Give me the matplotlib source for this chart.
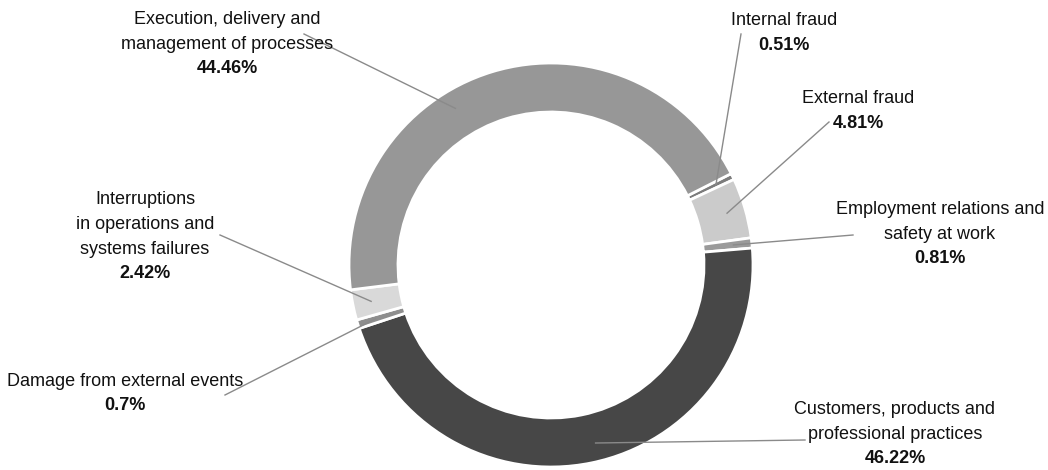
import numpy as np
import matplotlib
matplotlib.use("Agg")
import matplotlib.pyplot as plt

# data
categories = ["Internal fraud", "External fraud",
              "Employment relations and\nsafety at work",
              "Customers, products and\nprofessional practices",
              "Damage from external events",
              "Interruptions\nin operations and\nsystems failures",
              "Execution, delivery and\nmanagement of processes"]
shares = [0.51, 4.81, 0.81, 46.22, 0.7, 2.42, 44.46]
pct_labels = ["0.51%", "4.81%", "0.81%", "46.22%", "0.7%", "2.42%", "44.46%"]

colors = ["#7c7c7c", "#cbcbcb", "#9a9a9a", "#474747", "#8e8e8e", "#d9d9d9", "#979797"]
# label anchor (text centre, top line) in pixel coords from top-left, leader end points
label_pos = [(784, 12), (858, 90), (940, 201), (895, 401), (125, 373), (145, 191), (227, 11)]
line_end = [(741, 34), (829, 122), (853, 235), (805, 440), (225, 395), (220, 235), (304, 34)]
anchor_frac = [0.5, 0.5, 0.5, 0.485, 0.5, 0.5, 0.41]

plt.rcParams["font.family"] = ["Liberation Sans", "DejaVu Sans"]

W, H = 1048, 470
fig = plt.figure(figsize=(W / 100, H / 100), dpi=100)
ax = fig.add_axes([0, 0, 1, 1])

cx, cy, R, width = 551, H - 265, 202, 49
start = 26.9
wedges, _ = ax.pie(shares, colors=colors, startangle=start, counterclock=False,
                   center=(cx, cy), radius=R, frame=True,
                   wedgeprops=dict(width=width, edgecolor="white", linewidth=2))
ax.set_xlim(0, W)
ax.set_ylim(0, H)
ax.set_aspect("equal")
ax.axis("off")

r_mid = R - width / 2 + 6
for w, name, pct, (tx, ty), (lx, ly), fr in zip(wedges, categories, pct_labels,
                                                label_pos, line_end, anchor_frac):
    a0, a1 = w.theta1, w.theta2
    ang = np.deg2rad(a1 - (a1 - a0) * fr)
    px = cx + r_mid * np.cos(ang)
    py = cy + r_mid * np.sin(ang)
    ax.plot([px, lx], [py, H - ly], color="#8a8a8a", lw=1.0, zorder=3)
    nlines = name.count("\n") + 1
    ax.text(tx, H - ty, name, ha="center", va="top", fontsize=13,
            linespacing=1.6, color="#111111")
    ax.text(tx, H - ty - nlines * 24.5, pct, ha="center", va="top",
            fontsize=13, fontweight="bold", color="#111111")

fig.savefig("out.png", dpi=100)
